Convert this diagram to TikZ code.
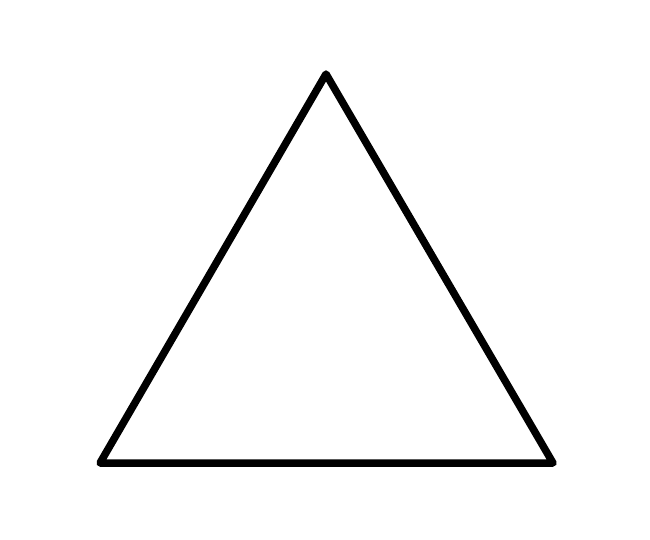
\documentclass[tikz,border=0pt]{standalone}
\usepackage{tikz}
\def\outline{(0,0) rectangle (6.5,5.39)}

\begin{document}
\begin{tikzpicture}
	 \useasboundingbox \outline;
	 \begin{scope}[line width=0.075cm, line join=round]
	    \coordinate (apex) at (3.26,4.65);
	    \coordinate (baseL) at (1.00,0.76);
	    \coordinate (baseR) at (5.53,0.76);
	    \draw (apex) -- (baseR) -- (baseL) -- cycle;
	 \end{scope}
      \end{tikzpicture}
\end{document}
